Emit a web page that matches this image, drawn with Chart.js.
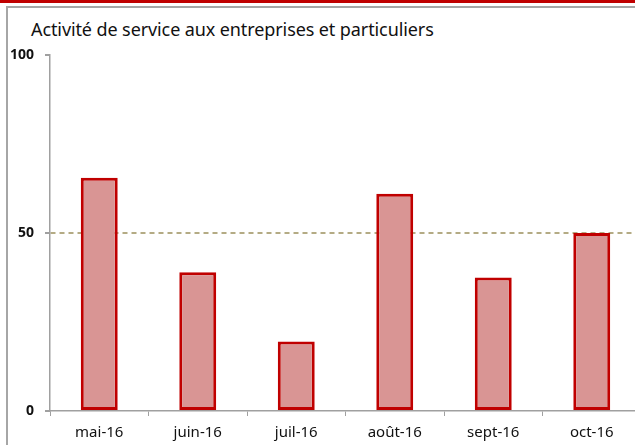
<!DOCTYPE html>
<html>
<head>
<meta charset="utf-8">
<script src="https://cdn.jsdelivr.net/npm/chart.js@4/dist/chart.umd.min.js"></script>
<style>
  body { margin: 0; background: #fff; }
  #wrap { position: relative; width: 635px; height: 445px; overflow: hidden; }
  #bande { position: absolute; left: 0; top: 0; width: 635px; height: 3px; background: #c00000; }
  #cadre { position: absolute; left: 6px; top: 6px; width: 700px; height: 500px;
           border-left: 2px solid #a6a6a6; border-top: 2px solid #a6a6a6; }
  #titre { position: absolute; left: 31px; top: 17px; font: 18px "Noto Sans", sans-serif;
           color: #111; letter-spacing: -0.1px; }
  canvas { position: absolute; left: 0; top: 0; }
</style>
</head>
<body>
<div id="wrap">
  <div id="bande"></div>
  <div id="cadre"></div>
  <div id="titre">Activité de service aux entreprises et particuliers</div>
  <canvas id="graph" width="641" height="450"></canvas>
</div>
<script>
const mois = ["mai-16", "juin-16", "juil-16", "août-16", "sept-16", "oct-16"];
const valeurs = [65.5, 39, 19.5, 61, 37.5, 50];
const seuil = 50;
const yTicks = [0, 50, 100];

const ctx = document.querySelector("#graph").getContext("2d");

const config = {
    type: "bar",
    data: {
        labels: mois,
        datasets: [{
            data: valeurs,
            backgroundColor: "#d99594",
            borderColor: "#c00000",
            borderWidth: 3,
            borderSkipped: false,
            barPercentage: 0.375,
            categoryPercentage: 1
        }]
    },
    options: {
        responsive: false,
        animation: false,
        layout: { padding: { left: 3, top: 55, right: 0, bottom: 0 } },
        plugins: {
            legend: { display: false },
            tooltip: { enabled: false }
        },
        scales: {
            x: {
                grid: {
                    offset: true,
                    drawOnChartArea: false,
                    tickLength: 5,
                    tickColor: "#a0a0a0"
                },
                border: { color: "#a0a0a0", width: 1.5 },
                ticks: {
                    color: "#111",
                    padding: 8,
                    font: { family: "Noto Sans", size: 15 }
                }
            },
            y: {
                min: 0,
                max: 100,
                afterBuildTicks: axis => { axis.ticks = yTicks.map(v => ({ value: v })); },
                afterFit: axis => { axis.width = 47; },
                grid: {
                    color: c => c.tick && c.tick.value === seuil ? "#b4ab84" : "transparent",
                    lineWidth: 2,
                    tickLength: 5,
                    tickColor: "#a0a0a0",
                    tickBorderDash: []
                },
                border: { color: "#a0a0a0", width: 1.5, dash: [5, 4] },
                ticks: {
                    color: "#111",
                    padding: 11,
                    font: { family: "Noto Sans", size: 14, weight: "bold" }
                }
            }
        }
    }
};

window.monGraph = new Chart(ctx, config);
</script>
</body>
</html>
